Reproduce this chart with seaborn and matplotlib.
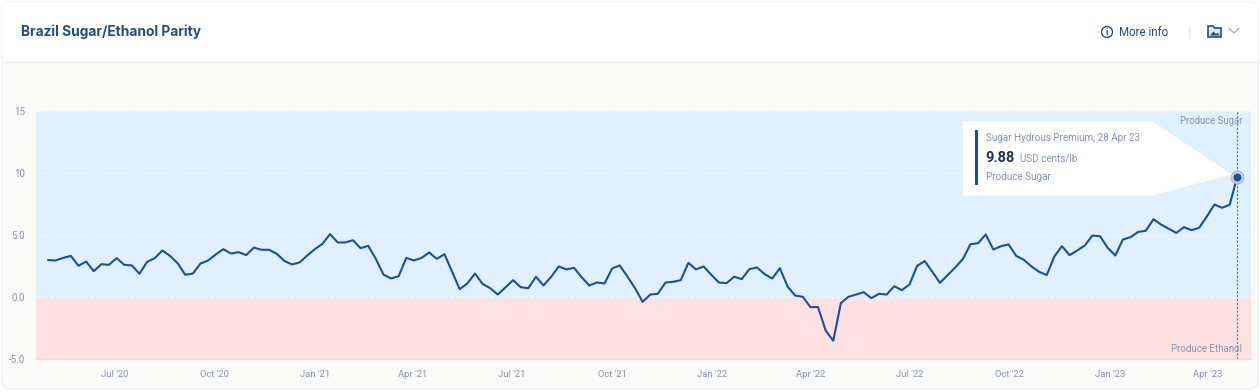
import matplotlib
matplotlib.use("Agg")
import matplotlib.pyplot as plt
import matplotlib.dates as mdates
from matplotlib.patches import FancyBboxPatch, Polygon, Circle, Rectangle
import pandas as pd
import seaborn as sns

# Weekly values (1 May 2020 to 28 Apr 2023)
first_week = "2020-05-01"
last_week = "2023-04-28"
premium = [
    2.98, 2.95, 3.16, 3.32, 2.52, 2.87, 2.09, 2.65, 2.60, 3.14,
    2.60, 2.55, 1.88, 2.84, 3.14, 3.75, 3.32, 2.73, 1.80, 1.90,
    2.70, 2.95, 3.43, 3.86, 3.51, 3.62, 3.38, 3.99, 3.81, 3.81,
    3.49, 2.92, 2.63, 2.79, 3.35, 3.86, 4.29, 5.07, 4.40, 4.40,
    4.58, 3.94, 4.13, 3.08, 1.82, 1.50, 1.69, 3.16, 2.95, 3.16,
    3.59, 3.08, 3.46, 2.06, 0.64, 1.10, 1.90, 1.07, 0.72, 0.21,
    0.78, 1.37, 0.80, 0.72, 1.64, 0.94, 1.64, 2.47, 2.23, 2.36,
    1.60, 0.94, 1.18, 1.10, 2.31, 2.55, 1.66, 0.72, -0.38, 0.21,
    0.27, 1.18, 1.23, 1.37, 2.76, 2.23, 2.47, 1.80, 1.18, 1.13,
    1.64, 1.45, 2.25, 2.39, 1.85, 1.50, 2.33, 0.86, 0.13, 0.03,
    -0.80, -0.80, -2.68, -3.51, -0.48, 0.03, 0.21, 0.40, -0.08, 0.27,
    0.21, 0.88, 0.56, 1.02, 2.52, 2.90, 2.04, 1.15, 1.77, 2.39,
    3.06, 4.26, 4.34, 5.04, 3.83, 4.10, 4.24, 3.32, 3.00, 2.47,
    2.04, 1.77, 3.27, 4.10, 3.38, 3.75, 4.16, 4.96, 4.90, 3.97,
    3.35, 4.64, 4.83, 5.25, 5.34, 6.27, 5.84, 5.50, 5.17, 5.63,
    5.39, 5.58, 6.49, 7.45, 7.19, 7.43, 9.70,
]
y_ticks = [-5, 0, 5, 10, 15]
y_tick_labels = ["-5.0", "0.0", "5.0", "10", "15"]
x_ticks = ["2020-07-01", "2020-10-01", "2021-01-01", "2021-04-01",
           "2021-07-01", "2021-10-01", "2022-01-01", "2022-04-01",
           "2022-07-01", "2022-10-01", "2023-01-01", "2023-04-01"]
x_tick_labels = ["Jul '20", "Oct '20", "Jan '21", "Apr '21",
                 "Jul '21", "Oct '21", "Jan '22", "Apr '22",
                 "Jul '22", "Oct '22", "Jan '23", "Apr '23"]

W, H = 1260, 392
NAVY = "#2B4A7F"
LINE = "#1C4F9E"
GREY = "#8793B0"

sns.set_style("white")
plt.rcParams["font.family"] = ["Roboto", "DejaVu Sans"]

df = pd.DataFrame({"date": pd.date_range(first_week, last_week, freq="7D"),
                   "premium": premium})

fig = plt.figure(figsize=(W / 100, H / 100), dpi=100, facecolor="white")

# card and header, drawn in pixel coordinates
bg = fig.add_axes([0, 0, 1, 1], zorder=0)
bg.set_xlim(0, W)
bg.set_ylim(H, 0)
bg.axis("off")
card = FancyBboxPatch((2, 2), W - 4, H - 5, boxstyle="round,pad=0,rounding_size=9",
                      fc="#FAFAF8", ec="#EEF0F3", lw=1)
bg.add_patch(card)
header = Rectangle((2, 2), W - 4, 59, fc="white", ec="none")
bg.add_patch(header)
header.set_clip_path(card)
bg.plot([2, W - 2], [61.5, 61.5], color="#F0F0EE", lw=1)

# plot area
left, right, top, bottom = 36, 1250.7, 110.7, 359.3
ax = fig.add_axes([left / W, 1 - bottom / H, (right - left) / W, (bottom - top) / H],
                  zorder=1)
ax.set_facecolor("none")
ax.axhspan(0, 15, color="#DFF0FE", lw=0, zorder=0)
ax.axhspan(-5, 0, color="#FFE1E3", lw=0, zorder=0)
for y in [0, 5, 10, 15]:
    ax.axhline(y, color="#F3F6F8", lw=0.8, ls=(0, (4, 2)), zorder=1)

sns.lineplot(data=df, x="date", y="premium", ax=ax, color=LINE, lw=1.5, zorder=3)

day = mdates.date2num(pd.Timestamp(first_week))
px_per_day = (1237.3 - 48) / 1092
ax.set_xlim(day - (48 - left) / px_per_day, day + (right - 48) / px_per_day)
ax.set_ylim(-5, 15)
ax.set_xlabel("")
ax.set_ylabel("")
ax.set_yticks(y_ticks, y_tick_labels, fontsize=7, color=GREY)
ax.set_xticks(pd.to_datetime(x_ticks), x_tick_labels, fontsize=6.8, color=GREY)
ax.tick_params(axis="y", length=0, pad=8)
ax.tick_params(axis="x", length=8, width=0.8, color="#E3EAF4", direction="inout", pad=3.5)
for name, spine in ax.spines.items():
    spine.set_visible(name == "bottom")
ax.spines["bottom"].set_color("#D8E3F2")
ax.spines["bottom"].set_linewidth(1)

# crosshair and hover marker on the last point
last_date = df["date"].iloc[-1]
last_val = df["premium"].iloc[-1]
ax.axvline(last_date, color="#5A6A88", lw=0.8, ls=(0, (2, 1.5)), zorder=2)
ax.scatter([last_date], [last_val], s=85, facecolor="#C4D2E4", edgecolor="#9FB0C8",
           linewidth=0.6, zorder=4)
ax.scatter([last_date], [last_val], s=22, color=LINE, zorder=5)

fig.text(1242 / W, 1 - 121 / H, "Produce Sugar", ha="right", va="center",
         fontsize=6.9, color=GREY, zorder=6)
fig.text(1242 / W, 1 - 348.5 / H, "Produce Ethanol", ha="right", va="center",
         fontsize=7, color=GREY, zorder=6)

# tooltip and header items on top of the chart
fg = fig.add_axes([0, 0, 1, 1], zorder=2)
fg.set_xlim(0, W)
fg.set_ylim(H, 0)
fg.axis("off")
fg.add_patch(Polygon([(962.7, 121), (1151.7, 121), (1232, 174.5), (1151.7, 195.7),
                      (962.7, 195.7)], closed=True, fc="white", ec="none"))
fg.add_patch(Rectangle((974.8, 130), 3, 55, fc=LINE, ec="none"))
fg.text(985.6, 137.5, "Sugar Hydrous Premium, 28 Apr 23", fontsize=7.1, color=GREY,
        va="center")
fg.text(985.6, 158, "9.88", fontsize=10.5, fontweight="bold", color="#1F2F5C", va="center")
fg.text(1019.5, 158.5, "USD cents/lb", fontsize=7.1, color=GREY, va="center")
fg.text(985.6, 177, "Produce Sugar", fontsize=7.1, color=GREY, va="center")

fg.text(21, 32, "Brazil Sugar/Ethanol Parity", fontsize=9.9, fontweight="bold",
        family=["Inter", "DejaVu Sans"], color=NAVY, va="center")
fg.text(1119, 32, "More info", fontsize=8.3, color=NAVY, va="center")
fg.add_patch(Circle((1107, 32), 5.5, fc="none", ec=NAVY, lw=1))
fg.text(1107, 32, "i", fontsize=6.5, fontweight="bold", color=NAVY, ha="center", va="center")
fg.plot([1188.5, 1188.5], [26, 38], color="#DCE6F2", lw=1)
fg.add_patch(Polygon([(1208, 26), (1213, 26), (1215, 28), (1221, 28), (1221, 37), (1208, 37)],
                     closed=True, fc="#DCE6F2", ec=NAVY, lw=1.2))
fg.add_patch(Polygon([(1210, 35.5), (1213.5, 31.5), (1216, 34), (1217.5, 32.8), (1220, 35.5)],
                     closed=True, fc=NAVY, ec="none"))
fg.plot([1229, 1234, 1239], [28.5, 33, 28.5], color="#A6B3C8", lw=1)

fig.savefig("out.png", dpi=100)
